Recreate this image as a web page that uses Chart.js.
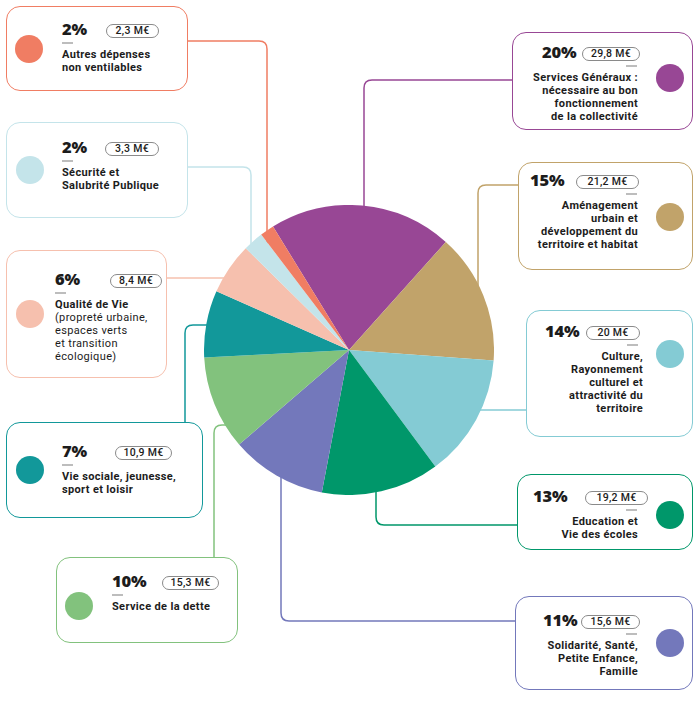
<!DOCTYPE html>
<html><head><meta charset="utf-8">
<script src="https://cdn.jsdelivr.net/npm/chart.js@4"></script>
<style>
html,body{margin:0;padding:0;background:#fff;}
#wrap{position:relative;width:700px;height:703px;overflow:hidden;font-family:"Open Sans",Lato,sans-serif;color:#1c1c1c;}
#lines{position:absolute;left:0;top:0;}
#pie{position:absolute;left:204px;top:205px;width:290px;height:290px;}
.box{position:absolute;box-sizing:border-box;border:1.5px solid;border-radius:14px;background:#fff;}
.dot{position:absolute;width:28px;height:28px;border-radius:50%;}
.pct{position:absolute;font-size:16.5px;font-weight:800;line-height:20px;white-space:nowrap;letter-spacing:-0.2px;}
.pill{position:absolute;height:12px;border:1px solid #8a8a8a;border-radius:7px;font-family:Roboto,sans-serif;font-size:10.5px;line-height:12px;text-align:center;font-weight:500;white-space:nowrap;letter-spacing:0.3px;}
.dash{position:absolute;width:11px;height:1.5px;background:#bdbdbd;}
.lab{position:absolute;font-family:Roboto,sans-serif;font-size:11px;font-weight:700;white-space:nowrap;letter-spacing:0.35px;}
.lab div{height:13px;line-height:13px;}
.lab .n{font-weight:400;}
</style></head>
<body>
<div id="wrap">
<svg id="lines" width="700" height="703"></svg>
<div id="pie"><canvas id="c" width="290" height="290"></canvas></div>
</div>
<script>
// ---- data ----
const categories = ["Services Généraux","Aménagement","Culture","Education","Solidarité","Service de la dette","Vie sociale","Qualité de Vie","Sécurité","Autres dépenses"];
const valuesMEUR = [29.8, 21.2, 20, 19.2, 15.6, 15.3, 10.9, 8.4, 3.3, 2.3];
const percents = [20, 15, 14, 13, 11, 10, 7, 6, 2, 2];
const amountLabels = ["29,8 M€","21,2 M€","20 M€","19,2 M€","15,6 M€","15,3 M€","10,9 M€","8,4 M€","3,3 M€","2,3 M€"];
const labelLines = [
  ["Services Généraux :","nécessaire au bon","fonctionnement","de la collectivité"],
  ["Aménagement","urbain et","développement du","territoire et habitat"],
  ["Culture,","Rayonnement","culturel et","attractivité du","territoire"],
  ["Education et","Vie des écoles"],
  ["Solidarité, Santé,","Petite Enfance,","Famille"],
  ["Service de la dette"],
  ["Vie sociale, jeunesse,","sport et loisir"],
  ["Qualité de Vie","(propreté urbaine,","espaces verts","et transition","écologique)"],
  ["Sécurité et","Salubrité Publique"],
  ["Autres dépenses","non ventilables"]
];
const colors = ["#984795","#c1a36a","#84cbd4","#00976a","#7378bb","#82c27d","#12989a","#f6c0ae","#c4e4ea","#f07d63"];

// ---- layout (positions only) ----
const layout = [
  {x:512,y:32,w:181,h:98, cx:670,cy:78, px:542,py:42, pl:582,pw:56, al:"right",lx:638, dx:626, path:"M512,80 H372 Q364,80 364,88 V240"},
  {x:518,y:162,w:175,h:108, cx:670,cy:217, px:530,py:170, pl:576,pw:61, al:"right",lx:638, dx:626, path:"M518,185 H486 Q478,185 478,193 V300"},
  {x:526,y:310,w:167,h:127, cx:670,cy:354, px:545,py:321, pl:586,pw:52, al:"right",lx:643, dx:627, path:"M526,410 H460"},
  {x:517,y:474,w:176,h:76, cx:670,cy:515, px:533,py:486, pl:585,pw:61, al:"right",lx:638, dx:626, path:"M517,525 H384 Q376,525 376,517 V470"},
  {x:515,y:596,w:178,h:94, cx:670,cy:643, px:543,py:610, pl:581,pw:57, al:"right",lx:638, dx:626, path:"M515,621 H289 Q281,621 281,613 V460"},
  {x:56,y:557,w:182,h:86, cx:79,cy:606, px:112,py:571, pl:162,pw:55, al:"left",lx:112, dx:112, path:"M214,557 V433 Q214,425 222,425 H245"},
  {x:6,y:422,w:197,h:96, cx:30,cy:470, px:62,py:441, pl:115,pw:55, al:"left",lx:62, dx:62, path:"M185,422 V333 Q185,325 193,325 H235"},
  {x:6,y:250,w:161,h:128, cx:30,cy:314, px:55,py:269, pl:110,pw:50, al:"left",lx:55, dx:55, path:"M167,278 H240"},
  {x:6,y:122,w:182,h:96, cx:30,cy:170, px:62,py:137, pl:105,pw:52, al:"left",lx:62, dx:62, path:"M188,167 H243 Q251,167 251,175 V262"},
  {x:6,y:6,w:182,h:85, cx:29,cy:49, px:62,py:19, pl:106,pw:51, al:"left",lx:62, dx:62, path:"M188,41 H259 Q267,41 267,49 V250"}
];

const svg = document.getElementById('lines');
layout.forEach((L,i)=>{
  const p = document.createElementNS("http://www.w3.org/2000/svg","path");
  p.setAttribute("d", L.path);
  p.setAttribute("fill","none");
  p.setAttribute("stroke", colors[i]);
  p.setAttribute("stroke-width","1.5");
  svg.appendChild(p);
});

const wrap = document.getElementById('wrap');
layout.forEach((L,i)=>{
  const b = document.createElement('div');
  b.className='box';
  Object.assign(b.style,{left:L.x+'px',top:L.y+'px',width:L.w+'px',height:L.h+'px',borderColor:colors[i]});
  wrap.appendChild(b);
  const d = document.createElement('div'); d.className='dot';
  Object.assign(d.style,{left:(L.cx-14)+'px',top:(L.cy-14)+'px',background:colors[i]});
  wrap.appendChild(d);
  const t = document.createElement('div'); t.className='pct'; t.textContent=percents[i]+'%';
  Object.assign(t.style,{left:L.px+'px',top:L.py+'px'});
  wrap.appendChild(t);
  const pl = document.createElement('div'); pl.className='pill'; pl.textContent=amountLabels[i];
  Object.assign(pl.style,{left:L.pl+'px',top:(L.py+5)+'px',width:L.pw+'px'});
  wrap.appendChild(pl);
  const ds = document.createElement('div'); ds.className='dash';
  Object.assign(ds.style,{left:L.dx+'px',top:(L.py+23)+'px'});
  wrap.appendChild(ds);
  const lb = document.createElement('div'); lb.className='lab';
  labelLines[i].forEach((s,k)=>{
    const ln = document.createElement('div');
    ln.textContent = s;
    if(i===7 && k>0) ln.className='n';
    lb.appendChild(ln);
  });
  lb.style.top=(L.py+29)+'px';
  if(L.al==='right'){ lb.style.right=(700-L.lx)+'px'; lb.style.textAlign='right'; }
  else { lb.style.left=L.lx+'px'; }
  wrap.appendChild(lb);
});

new Chart(document.getElementById('c'),{
  type:'pie',
  data:{labels:categories,datasets:[{data:valuesMEUR,backgroundColor:colors,borderWidth:0}]},
  options:{
    responsive:false,animation:false,rotation:-31.6,
    layout:{padding:0},
    plugins:{legend:{display:false},tooltip:{enabled:false}},
    events:[]
  }
});
</script>
</body></html>
